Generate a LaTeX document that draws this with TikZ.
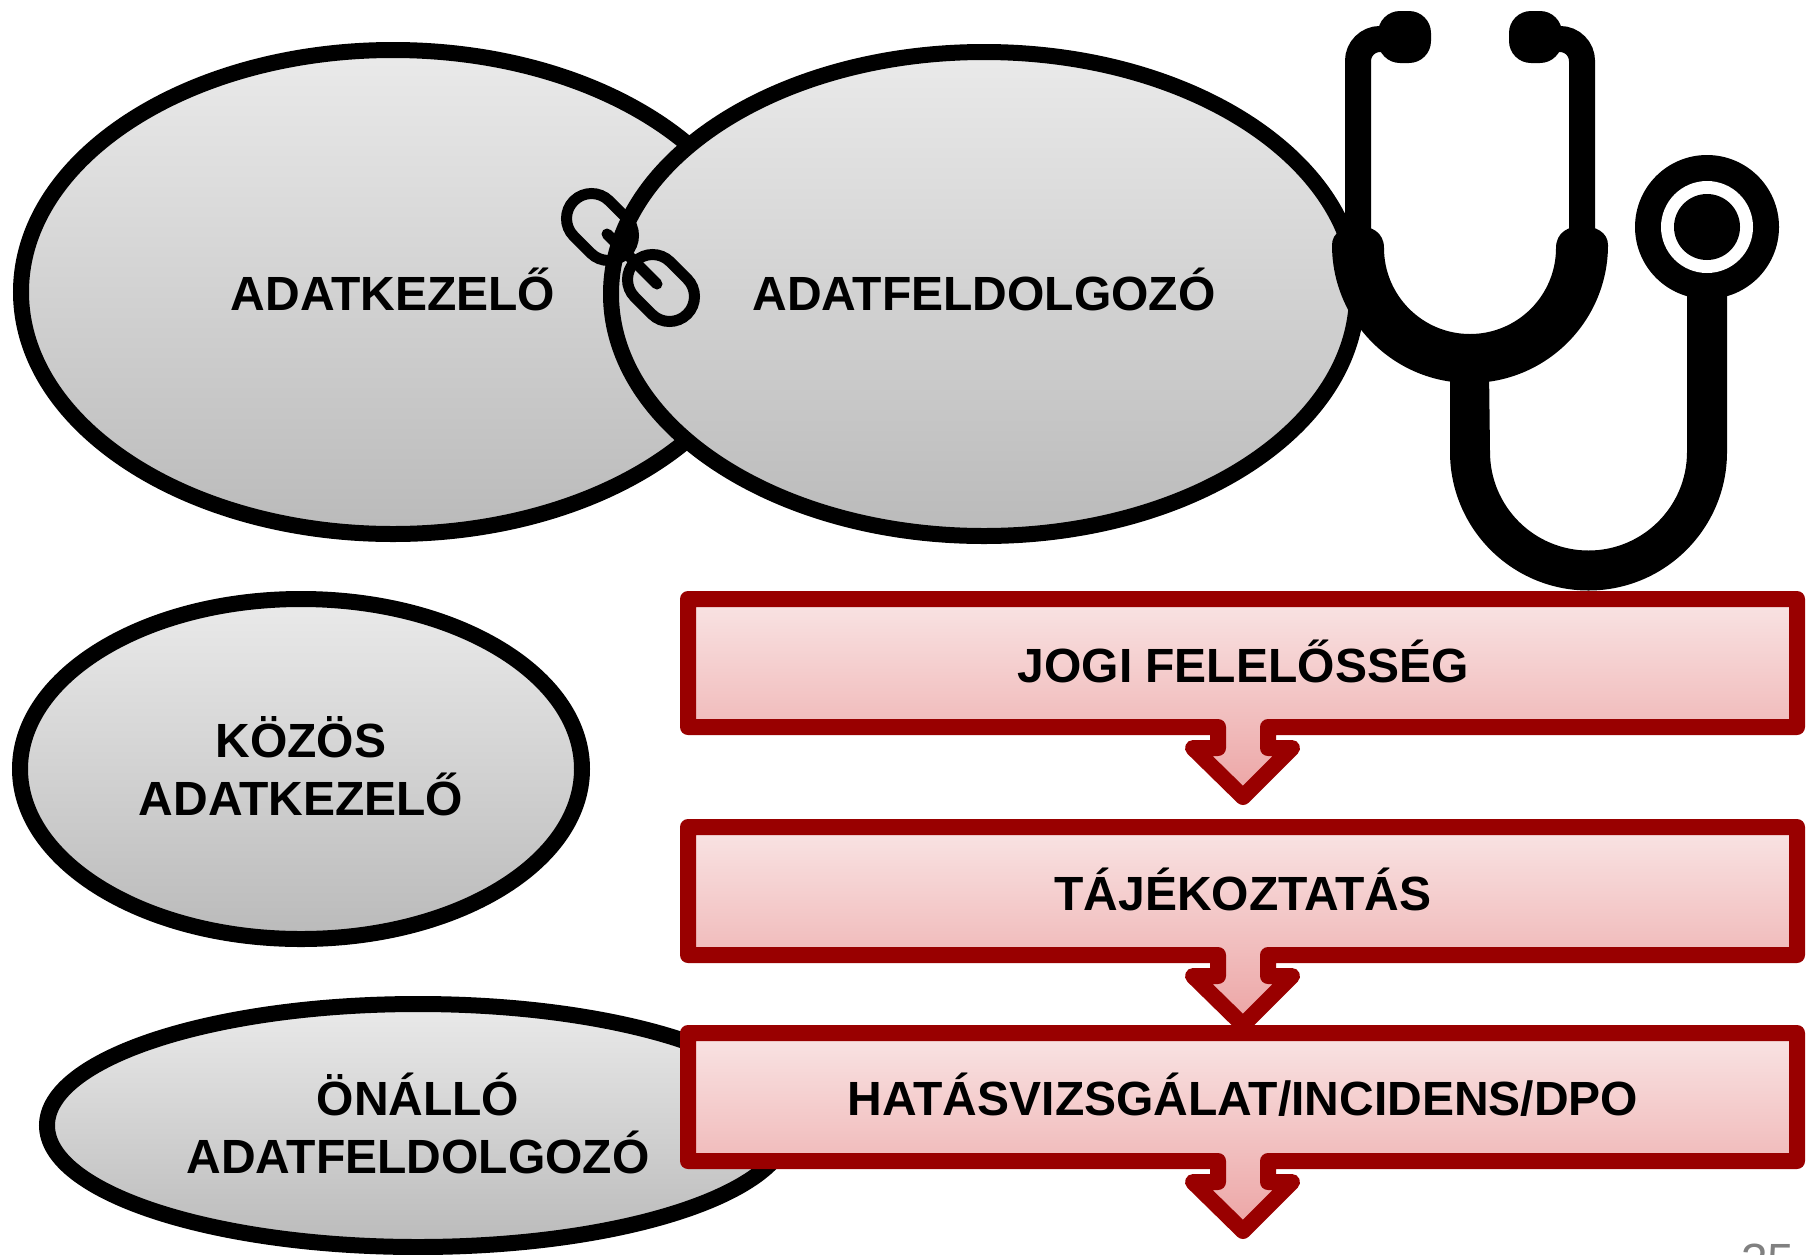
\documentclass[tikz,border=0pt]{standalone}
\usepackage{fontspec}
\setmainfont{Liberation Sans}
\usetikzlibrary{shadows, calc}

\definecolor{darkred}{HTML}{990000}
\definecolor{steptop}{HTML}{F9E4E4}
\definecolor{stepbottom}{HTML}{ECA4A4}
\definecolor{roletop}{HTML}{EAEAEA}
\definecolor{rolebottom}{HTML}{BABABA}
\tikzset{
	softshadow/.style={
		drop shadow={shadow xshift=1pt, shadow yshift=-2pt, opacity=0.12, fill=black},
		drop shadow={shadow xshift=1pt, shadow yshift=-4pt, opacity=0.10, fill=black},
		drop shadow={shadow xshift=2pt, shadow yshift=-6pt, opacity=0.06, fill=black}
	},
	role/.style={
		draw=black, line width=16pt, top color=roletop, bottom color=rolebottom, softshadow
	},
	rolelabel/.style={font=\fontsize{48}{58}\selectfont\bfseries, align=center, text=black},
	stepshape/.style={
		draw=darkred, line width=16pt, line join=round,
		top color=steptop, bottom color=stepbottom, softshadow
	},
	chain/.style={draw=black, line width=11pt, rounded corners=25pt}
}

\begin{document}
\begin{tikzpicture}[x=1pt, y=-1pt]
		\useasboundingbox (0,0) rectangle (1807,1254);
		\clip (0,0) rectangle (1807,1254);
		
		% --- 1. Ellipses ---
		\draw[role] (393,292) ellipse [x radius=372, y radius=242];
		\draw[role] (984,294) ellipse [x radius=373, y radius=242];
		\draw[role] (301,769) ellipse [x radius=281, y radius=170];
		\draw[role] (418,1125.5) ellipse [x radius=371, y radius=121.5];
		
		\node[rolelabel] (controller) at (393,289) {ADATKEZELŐ};
		\node[rolelabel] (processor) at (984,289) {ADATFELDOLGOZÓ};
		\node[rolelabel] (joint) at (301,766) {KÖZÖS\\ADATKEZELŐ};
		\node[rolelabel] (independent) at (418,1123) {ÖNÁLLÓ\\ADATFELDOLGOZÓ};
		
		% --- 2. Chain links ---
		\draw[chain, rotate around={-45:(600,227)}] (563,202) rectangle (637,252);
		\draw[chain, rotate around={-45:(661,288)}] (624,263) rectangle (698,313);
		\draw[black, line width=11pt, line cap=round] (607,234) -- (657,284);
		
		% --- 3. Stethoscope ---
		% earpieces and tubes
		\fill[rounded corners=22pt] (1378,11) rectangle (1431,63);
		\fill[rounded corners=22pt] (1509,11) rectangle (1562,63);
		\draw[line width=26pt] (1358,235) -- (1358,61) arc [start angle=180, end angle=270, radius=22] -- (1395,39);
		\draw[line width=26pt] (1582,235) -- (1582,61) arc [start angle=0, end angle=-90, radius=22] -- (1545,39);
		% yoke
		\fill (1332,245) .. controls (1332,232) and (1345,226) .. (1358,226)
			.. controls (1371,226) and (1384,232) .. (1384,248)
			arc [start angle=180, end angle=0, radius=86]
			.. controls (1556,232) and (1569,226) .. (1582,226)
			.. controls (1595,226) and (1608,232) .. (1608,245)
			arc [start angle=0, end angle=180, radius=138] -- cycle;
		% lower tube
		\fill (1450,370) -- (1450,452) arc [start angle=180, end angle=0, radius=138.5]
			-- (1727,280) -- (1687,280) -- (1687,452)
			arc [start angle=0, end angle=180, radius=98.5] -- (1489,370) -- cycle;
		% chest piece
		\fill (1707,227) circle [radius=72];
		\fill[white] (1707,227) circle [radius=46];
		\fill (1707,227) circle [radius=33];
		
		% --- 4. Steps with arrows ---
		\foreach \ystep/\steptext/\stepname in {0/JOGI FELELŐSSÉG/liability, 228/TÁJÉKOZTATÁS/notice, 434/HATÁSVIZSGÁLAT\slash INCIDENS\slash DPO/impact} {
			\draw[stepshape, yshift=-\ystep pt]
				(688,599) -- (1797,599) -- (1797,727) -- (1268,727) -- (1268,748) -- (1292,748)
				-- (1243,797) -- (1193,748) -- (1218,748) -- (1218,727) -- (688,727) -- cycle;
			\node[rolelabel] (\stepname) at (1243,661+\ystep) {\steptext};
		}
		
		% --- 5. Page number ---
		\node[font=\fontsize{48}{58}\selectfont, text=gray, anchor=base east] (pagenum) at (1798,1277) {35};
	\end{tikzpicture}
\end{document}
